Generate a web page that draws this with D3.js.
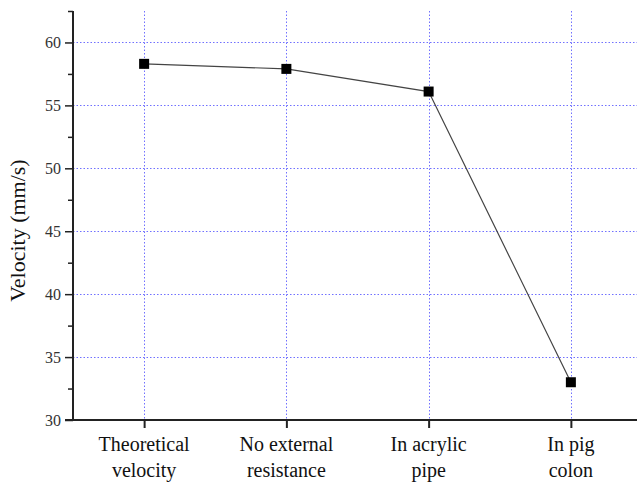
<!DOCTYPE html>
<html><head><meta charset="utf-8">
<script src="https://cdn.jsdelivr.net/npm/d3@7"></script>
</head>
<body style="margin:0;background:#fff">
<svg id="c" width="637" height="488" font-family="Liberation Serif" style="display:block"></svg>
<script>
const categories = [["Theoretical","velocity"],["No external","resistance"],["In acrylic","pipe"],["In pig","colon"]];
const velocity = [58.3, 57.9, 56.1, 33.0];
const yTicks = [30,35,40,45,50,55,60];
const yMinor = [32.5,37.5,42.5,47.5,52.5,57.5,62.5];

const svg = d3.select("#c");
const pL = 73, pR = 642, pT = 11, pB = 420;
const FF = '"Liberation Serif"';

const x = d3.scalePoint().domain(d3.range(categories.length)).range([pL, pR]).padding(0.5);
const y = d3.scaleLinear().domain([30, 62.5]).range([pB, pT]);

// grid
const grid = svg.append("g").attr("stroke","#7070ff").attr("stroke-width",1).attr("stroke-dasharray","1.5,2");
grid.selectAll("line.h").data(yTicks.filter(d=>d>30)).join("line").attr("class","h")
  .attr("x1",pL).attr("x2",637).attr("y1",d=>Math.round(y(d))+0.5).attr("y2",d=>Math.round(y(d))+0.5);
grid.selectAll("line.v").data(d3.range(categories.length)).join("line").attr("class","v")
  .attr("y1",pT).attr("y2",pB).attr("x1",d=>Math.round(x(d))+0.5).attr("x2",d=>Math.round(x(d))+0.5);

// y axis
const yAxis = d3.axisLeft(y).tickValues(yTicks).tickSize(8).tickPadding(4).tickFormat(d3.format("d"));
const gy = svg.append("g").attr("transform",`translate(${pL},0)`).call(yAxis);
gy.attr("font-family",null);
gy.select(".domain").attr("stroke","#222").attr("stroke-width",2).attr("d",`M0,${pT}V${pB}`);
gy.selectAll(".tick line").attr("stroke","#222").attr("stroke-width",1.5);
gy.selectAll(".tick text").style("font-family",FF).attr("font-size",16).attr("fill","#333");
const gym = svg.append("g").attr("transform",`translate(${pL},0)`).call(d3.axisLeft(y).tickValues(yMinor).tickSize(5).tickFormat(""));
gym.select(".domain").remove();
gym.selectAll(".tick line").attr("stroke","#222").attr("stroke-width",1.5);

// x axis
const xAxis = d3.axisBottom(x).tickSize(8).tickFormat("");
const gx = svg.append("g").attr("transform",`translate(0,${pB})`).call(xAxis);
gx.attr("font-family",null);
gx.select(".domain").attr("stroke","#222").attr("stroke-width",2).attr("d",`M${pL-8},0H${pR}`);
gx.selectAll(".tick line").attr("stroke","#222").attr("stroke-width",2);
const labels = svg.append("g").attr("fill","#111").attr("text-anchor","middle");
categories.forEach((c,i)=>{
  const t = labels.append("text").style("font-family",FF).attr("x",x(i)).attr("y",pB+31).attr("font-size",20);
  c.forEach((s,j)=>t.append("tspan").attr("x",x(i)).attr("dy",j?26:0).text(s));
});

// y label
svg.append("text").style("font-family",FF).attr("transform",`translate(25,${(pT+pB)/2+15}) rotate(-90)`)
  .attr("text-anchor","middle").attr("font-size",22).attr("fill","#111")
  .text("Velocity (mm/s)");

// line & markers
const line = d3.line().x((d,i)=>x(i)).y(d=>y(d));
svg.append("path").datum(velocity).attr("d",line).attr("fill","none").attr("stroke","#444").attr("stroke-width",1.2);
svg.selectAll("rect.m").data(velocity).join("rect").attr("class","m")
  .attr("x",(d,i)=>x(i)-5).attr("y",d=>y(d)-5).attr("width",10).attr("height",10).attr("fill","#000");

// force text layout
svg.selectAll("text").each(function(){ this.getComputedTextLength(); });
</script>
</body></html>
